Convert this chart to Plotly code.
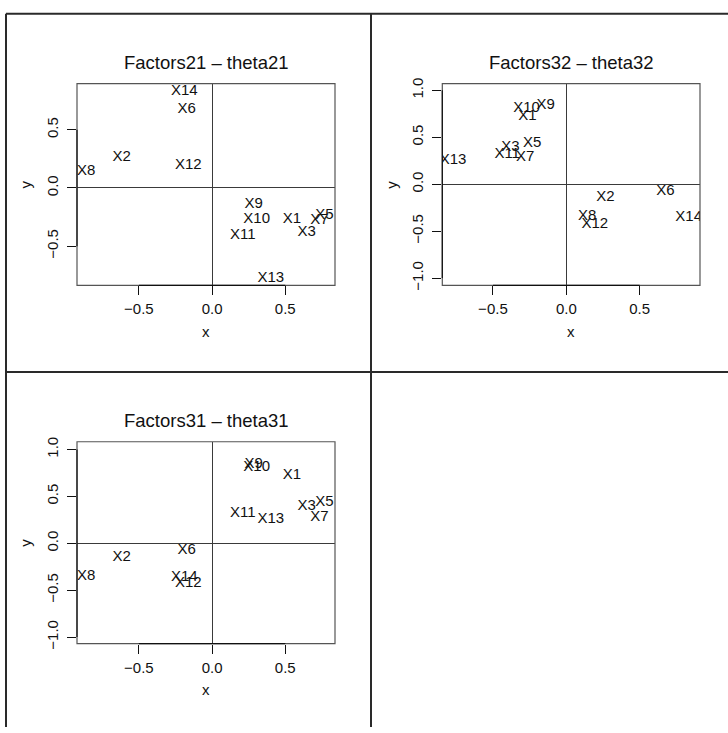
import plotly.graph_objects as go

# ---- data ----
labels = ["X1", "X2", "X3", "X5", "X6", "X7", "X8", "X9", "X10", "X11", "X12", "X13", "X14"]
f1 = [0.545, -0.617, 0.647, 0.768, -0.173, 0.733, -0.860, 0.285, 0.305, 0.210, -0.162, 0.401, -0.190]
f2 = [-0.265, 0.266, -0.380, -0.232, 0.676, -0.280, 0.142, -0.141, -0.271, -0.403, 0.194, -0.772, 0.834]
f3 = [0.724, -0.144, 0.398, 0.434, -0.079, 0.283, -0.346, 0.840, 0.812, 0.322, -0.430, 0.260, -0.357]

titles = ["Factors21 \u2013 theta21", "Factors32 \u2013 theta32", "Factors31 \u2013 theta31"]
x_ticks_all = [[-0.5, 0.0, 0.5], [-0.5, 0.0, 0.5], [-0.5, 0.0, 0.5]]
y_ticks_all = [[-0.5, 0.0, 0.5], [-1.0, -0.5, 0.0, 0.5, 1.0], [-1.0, -0.5, 0.0, 0.5, 1.0]]
tick_text = {-1.0: "\u22121.0", -0.5: "\u22120.5", 0.0: "0.0", 0.5: "0.5", 1.0: "1.0"}

panels_xy = [(f1, f2), (f2, f3), (f1, f3)]

# ---- layout geometry (pixels) ----
W, H = 728, 733
FONT = "Liberation Sans, Arial, Helvetica, sans-serif"

def px_x(p):
    return p / W

def px_y(p):
    return 1 - p / H

# plot boxes: (left, right, top, bottom) in pixels
boxes = [(77, 335, 79, 284), (442.3, 700, 79, 284), (77, 335, 443, 648.3)]
ranges = [
    ([-0.923, 0.84], [-0.837, 0.896]),
    ([-0.845, 0.911], [-1.077, 1.07]),
    ([-0.923, 0.84], [-1.07, 1.083]),
]

fig = go.Figure()
shapes = []
annotations = []

for i, ((xs, ys), (l, r, t, b)) in enumerate(zip(panels_xy, boxes)):
    n = "" if i == 0 else str(i + 1)
    xa, ya = "x" + n, "y" + n
    fig.add_trace(go.Scatter(
        x=xs, y=ys, text=labels, mode="text",
        textposition="middle center",
        textfont=dict(family=FONT, size=15, color="#111"),
        cliponaxis=True, showlegend=False, hoverinfo="skip",
        xaxis=xa, yaxis=ya,
    ))
    xr, yr = ranges[i]
    common = dict(
        showgrid=False, zeroline=True, zerolinecolor="#3a3a3a", zerolinewidth=1,
        showline=False, ticks="outside", ticklen=9, tickwidth=1, tickcolor="#111",
        tickfont=dict(family=FONT, size=15, color="#111"),
        fixedrange=True,
    )
    fig.layout["xaxis" + n] = dict(
        common, domain=[px_x(l), px_x(r)], range=xr, anchor=ya,
        tickvals=x_ticks_all[i], ticktext=[tick_text[v] for v in x_ticks_all[i]],
        ticklabelstandoff=1,
    )
    fig.layout["yaxis" + n] = dict(
        common, domain=[px_y(b), px_y(t)], range=yr, anchor=xa,
        tickvals=y_ticks_all[i], ticktext=[tick_text[v] for v in y_ticks_all[i]],
        tickangle=-90, ticklabelstandoff=3,
    )
    # plot box
    shapes.append(dict(type="rect", xref=xa + " domain", yref=ya + " domain",
                       x0=0, x1=1, y0=0, y1=1, line=dict(color="#555", width=1.2)))
    # axis line segments (first to last tick)
    xt, yt = x_ticks_all[i], y_ticks_all[i]
    shapes.append(dict(type="line", xref=xa, yref=ya + " domain",
                       x0=xt[0], x1=xt[-1], y0=0, y1=0, line=dict(color="#111", width=1.2)))
    shapes.append(dict(type="line", xref=xa + " domain", yref=ya,
                       x0=0, x1=0, y0=yt[0], y1=yt[-1], line=dict(color="#111", width=1.2)))
    cx = (l + r) / 2
    cy = (t + b) / 2
    annotations.append(dict(text=titles[i], xref="paper", yref="paper",
                            x=px_x(cx), y=px_y(t - 22), xanchor="center", yanchor="middle",
                            showarrow=False, font=dict(family=FONT, size=18.5, color="#111")))
    annotations.append(dict(text="x", xref="paper", yref="paper",
                            x=px_x(cx), y=px_y(b + 47), xanchor="center", yanchor="middle",
                            showarrow=False, font=dict(family=FONT, size=15, color="#111")))
    annotations.append(dict(text="y", xref="paper", yref="paper",
                            x=px_x(l - 51), y=px_y(cy), xanchor="center", yanchor="middle",
                            textangle=-90,
                            showarrow=False, font=dict(family=FONT, size=15, color="#111")))

# outer frame / dividers
frame = dict(color="#2a2a2a", width=2)
shapes += [
    dict(type="line", xref="paper", yref="paper", x0=px_x(6), x1=px_x(6), y0=px_y(8), y1=px_y(H), line=frame),
    dict(type="line", xref="paper", yref="paper", x0=px_x(6), x1=px_x(W), y0=px_y(8), y1=px_y(8), line=frame),
    dict(type="line", xref="paper", yref="paper", x0=px_x(371), x1=px_x(371), y0=px_y(8), y1=px_y(H), line=frame),
    dict(type="line", xref="paper", yref="paper", x0=px_x(6), x1=px_x(W), y0=px_y(372), y1=px_y(372), line=frame),
]

fig.update_layout(
    width=W, height=H, margin=dict(l=0, r=0, t=0, b=0),
    paper_bgcolor="white", plot_bgcolor="white",
    shapes=shapes, annotations=annotations, showlegend=False,
    font=dict(family=FONT),
)

fig.write_html(
    "out.html",
    config={"displayModeBar": False},
    post_script="document.body.style.margin='0';document.body.style.padding='0';",
)
